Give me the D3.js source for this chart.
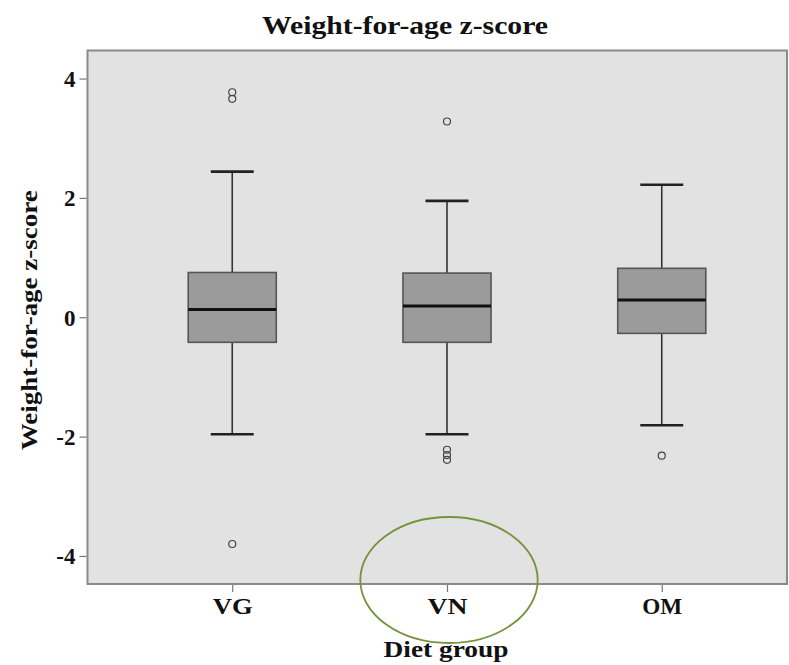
<!DOCTYPE html>
<html>
<head>
<meta charset="utf-8">
<script src="https://cdn.jsdelivr.net/npm/d3@7"></script>
<style>
  html, body { margin: 0; padding: 0; background: #ffffff; }
  svg { display: block; }
</style>
</head>
<body>
<svg id="chart" width="789" height="665"></svg>
<script>
// ---- data ----
const categories = ["VG", "VN", "OM"];
const q1Values = [-0.42, -0.42, -0.27];
const medianValues = [0.13, 0.19, 0.29];
const q3Values = [0.75, 0.74, 0.82];
const whiskerLowValues = [-1.96, -1.96, -1.81];
const whiskerHighValues = [2.44, 1.95, 2.22];
const outlierValues = [[3.77, 3.66, -3.80], [3.28, -2.22, -2.31, -2.39], [-2.32]];
const yTickValues = [-4, -2, 0, 2, 4];
const titleText = "Weight-for-age z-score";
const yAxisTitle = "Weight-for-age z-score";
const xAxisTitle = "Diet group";

// ---- layout ----
const svg = d3.select("#chart");
const plotLeft = 87.5, plotRight = 787, plotTop = 50.5, plotBottom = 584;
const font = "'Liberation Serif', 'Times New Roman', serif";

const x = d3.scalePoint().domain(categories).range([plotLeft, 806.5]).padding(0.674);
const y = d3.scaleLinear().domain([-4.47, 4.47]).range([plotBottom, plotTop]);
const step = x.step();
const boxW = step * 0.41;
const capW = step * 0.2;

// plot background
svg.append("rect")
  .attr("x", plotLeft).attr("y", plotTop)
  .attr("width", plotRight - plotLeft).attr("height", plotBottom - plotTop)
  .attr("fill", "#e2e2e2")
  .attr("stroke", "#8a8a8a").attr("stroke-width", 2);

// title
svg.append("text")
  .attr("x", 405).attr("y", 34)
  .attr("text-anchor", "middle")
  .attr("font-family", font).attr("font-weight", "bold").attr("font-size", 25)
  .attr("textLength", 286).attr("lengthAdjust", "spacingAndGlyphs")
  .attr("fill", "#111")
  .text(titleText);

// y axis
const yAxis = d3.axisLeft(y).tickValues(yTickValues).tickSize(7).tickPadding(4)
  .tickFormat(d => String(d));
const gy = svg.append("g").attr("transform", `translate(${plotLeft - 1},0)`).call(yAxis);
gy.select(".domain").remove();
gy.selectAll(".tick line").attr("stroke", "#777").attr("stroke-width", 1.2);
gy.selectAll(".tick text")
  .attr("font-family", font).attr("font-weight", "bold").attr("font-size", 23)
  .attr("fill", "#111").attr("dy", "0.34em");

// x axis
const xAxis = d3.axisBottom(x).tickSize(7).tickPadding(6);
const gx = svg.append("g").attr("transform", `translate(0,${plotBottom + 1})`).call(xAxis);
gx.select(".domain").remove();
gx.selectAll(".tick line").attr("stroke", "#777").attr("stroke-width", 1.2);
gx.selectAll(".tick text")
  .attr("font-family", font).attr("font-weight", "bold").attr("font-size", 23)
  .attr("textLength", 40).attr("lengthAdjust", "spacingAndGlyphs")
  .attr("fill", "#111");

// axis titles
svg.append("text")
  .attr("transform", `translate(37,${(plotTop + plotBottom) / 2 + 3}) rotate(-90)`)
  .attr("text-anchor", "middle")
  .attr("font-family", font).attr("font-weight", "bold").attr("font-size", 23)
  .attr("textLength", 260).attr("lengthAdjust", "spacingAndGlyphs")
  .attr("fill", "#111")
  .text(yAxisTitle);

svg.append("text")
  .attr("x", 446).attr("y", 657)
  .attr("text-anchor", "middle")
  .attr("font-family", font).attr("font-weight", "bold").attr("font-size", 23)
  .attr("textLength", 125).attr("lengthAdjust", "spacingAndGlyphs")
  .attr("fill", "#111")
  .text(xAxisTitle);

// boxes
const data = categories.map((c, i) => ({
  cat: c, q1: q1Values[i], med: medianValues[i], q3: q3Values[i],
  lo: whiskerLowValues[i], hi: whiskerHighValues[i], out: outlierValues[i]
}));

const g = svg.append("g");
data.forEach(d => {
  const cx = x(d.cat);
  // whiskers
  g.append("line").attr("x1", cx).attr("x2", cx).attr("y1", y(d.q3)).attr("y2", y(d.hi))
    .attr("stroke", "#333").attr("stroke-width", 1.6);
  g.append("line").attr("x1", cx).attr("x2", cx).attr("y1", y(d.q1)).attr("y2", y(d.lo))
    .attr("stroke", "#333").attr("stroke-width", 1.6);
  // caps
  [d.hi, d.lo].forEach(v => {
    g.append("line").attr("x1", cx - capW / 2).attr("x2", cx + capW / 2)
      .attr("y1", y(v)).attr("y2", y(v))
      .attr("stroke", "#222").attr("stroke-width", 2.6);
  });
  // box
  g.append("rect")
    .attr("x", cx - boxW / 2).attr("y", y(d.q3))
    .attr("width", boxW).attr("height", y(d.q1) - y(d.q3))
    .attr("fill", "#9b9b9b").attr("stroke", "#555").attr("stroke-width", 1.6);
  // median
  g.append("line").attr("x1", cx - boxW / 2).attr("x2", cx + boxW / 2)
    .attr("y1", y(d.med)).attr("y2", y(d.med))
    .attr("stroke", "#111").attr("stroke-width", 3);
  // outliers
  d.out.forEach(v => {
    g.append("circle").attr("cx", cx).attr("cy", y(v)).attr("r", 3.5)
      .attr("fill", "none").attr("stroke", "#444").attr("stroke-width", 1.2);
  });
});

// annotation ellipse around VN label
svg.append("ellipse")
  .attr("cx", x("VN") + 2).attr("cy", y(-4.47) - 4)
  .attr("rx", 88.7).attr("ry", 63)
  .attr("fill", "none").attr("stroke", "#76923c").attr("stroke-width", 1.8);
</script>
</body>
</html>
